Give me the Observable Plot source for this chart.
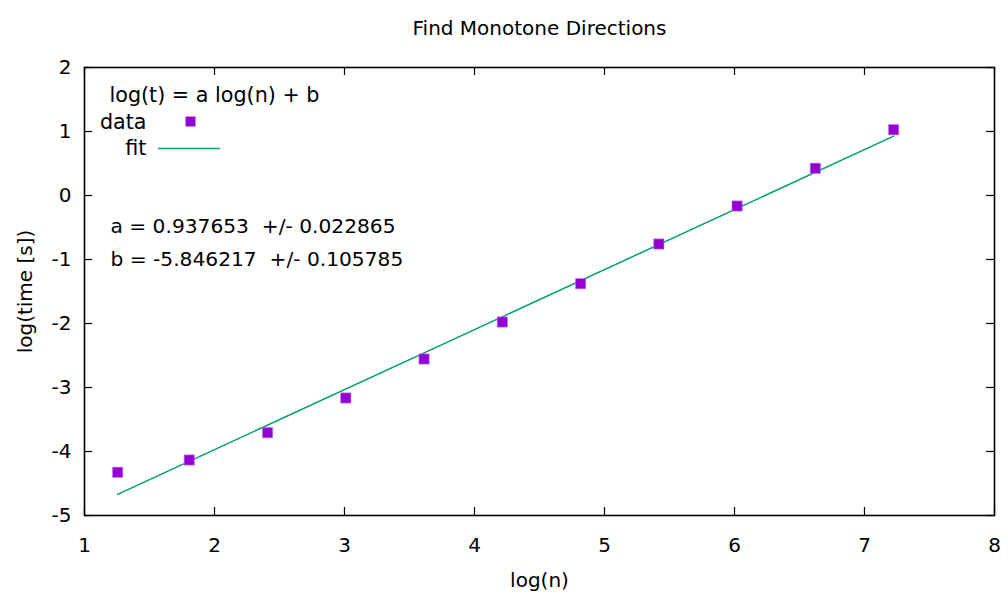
<!DOCTYPE html>
<html><head><meta charset="utf-8">
<script src="https://cdn.jsdelivr.net/npm/d3@7"></script>
<script src="https://cdn.jsdelivr.net/npm/@observablehq/plot@0.6"></script>
<style>
body{margin:0;background:#fff;}
svg{font-family:"DejaVu Sans",sans-serif;}
svg text{white-space:pre;}
</style>
</head><body><div id="chart"></div>
<script>
const logN = [1.255, 1.806, 2.408, 3.010, 3.612, 4.214, 4.816, 5.418, 6.020, 6.622, 7.224];
const logT = [-4.325, -4.133, -3.706, -3.164, -2.555, -1.977, -1.378, -0.758, -0.164, 0.425, 1.028];
const fitA = 0.937653, fitB = -5.846217;
const xTicks = [1, 2, 3, 4, 5, 6, 7, 8];
const yTicks = [-5, -4, -3, -2, -1, 0, 1, 2];
const title = "Find Monotone Directions";
const legendTitle = ["log(t) = a log(n) + b"];
const seriesNames = ["data", "fit"];
const paramLines = ["a = 0.937653  +/- 0.022865", "b = -5.846217  +/- 0.105785"];

const data = logN.map((x, i) => ({x, y: logT[i]}));
const xs = [logN[0], logN[logN.length - 1]];
const fit = xs.map(x => ({x, y: fitA * x + fitB}));

const W = 1008, H = 601, mL = 84, mR = 14, mT = 67, mB = 86;
const fw = W - mL - mR, fh = H - mT - mB;
const fs = 20, tickLen = 8;
const purple = "#9400d3", green = "#009e73";
const fmt = d => String(d);
const yTop = d3.max(yTicks);

const chart = Plot.plot({
  width: W, height: H,
  marginLeft: mL, marginRight: mR, marginTop: mT, marginBottom: mB,
  style: {fontSize: fs + "px", fontFamily: "DejaVu Sans, sans-serif", color: "#000"},
  x: {domain: [d3.min(xTicks), d3.max(xTicks)]},
  y: {domain: [d3.min(yTicks), d3.max(yTicks)]},
  marks: [
    Plot.axisX({anchor: "bottom", ticks: xTicks, tickSize: 0, tickPadding: 22, tickFormat: fmt, fontSize: fs, label: "log(n)", labelAnchor: "center", labelArrow: "none", labelOffset: 71}),
    Plot.axisY({anchor: "left", ticks: yTicks, tickSize: 0, tickPadding: 13, tickFormat: fmt, fontSize: fs, label: "log(time [s])", labelAnchor: "center", labelArrow: "none", labelOffset: 67}),
    // inward ticks on all four sides
    Plot.tickX(xTicks, {x: d => d, insetTop: fh - tickLen, stroke: "#000", strokeWidth: 1.2}),
    Plot.tickX(xTicks, {x: d => d, insetBottom: fh - tickLen, stroke: "#000", strokeWidth: 1.2}),
    Plot.tickY(yTicks, {y: d => d, insetRight: fw - tickLen, stroke: "#000", strokeWidth: 1.2}),
    Plot.tickY(yTicks, {y: d => d, insetLeft: fw - tickLen, stroke: "#000", strokeWidth: 1.2}),
    Plot.frame({stroke: "#000", strokeWidth: 1.6}),
    Plot.line(fit, {x: "x", y: "y", stroke: green, strokeWidth: 1.5}),
    Plot.dot(data, {x: "x", y: "y", symbol: "square", r: 5.8, fill: purple, stroke: "#c27ae6", strokeWidth: 0.6}),
    Plot.text([title], {text: d => d, frameAnchor: "top", lineAnchor: "middle", dy: -39, fontSize: fs}),
    Plot.text(legendTitle, {text: d => d, frameAnchor: "top-left", lineAnchor: "middle", dx: 25, dy: 28, textAnchor: "start", fontSize: 20.7}),
    Plot.text([seriesNames[0]], {text: d => d, frameAnchor: "top-left", lineAnchor: "middle", dx: 62, dy: 55, textAnchor: "end", fontSize: 20.7}),
    Plot.text([seriesNames[1]], {text: d => d, frameAnchor: "top-left", lineAnchor: "middle", dx: 62, dy: 81, textAnchor: "end", fontSize: 20.7}),
    Plot.dot([seriesNames[0]], {frameAnchor: "top-left", dx: 106, dy: 54, symbol: "square", r: 5.6, fill: purple}),
    Plot.ruleY([yTop], {y: d => d, dy: 81, insetLeft: 74, insetRight: fw - 136, stroke: green, strokeWidth: 1.5}),
    Plot.text([paramLines[0]], {text: d => d, frameAnchor: "top-left", lineAnchor: "middle", dx: 26, dy: 159, textAnchor: "start", fontSize: 20.2}),
    Plot.text([paramLines[1]], {text: d => d, frameAnchor: "top-left", lineAnchor: "middle", dx: 26, dy: 192, textAnchor: "start", fontSize: 20.2})
  ]
});
document.getElementById("chart").appendChild(chart);
</script></body></html>
